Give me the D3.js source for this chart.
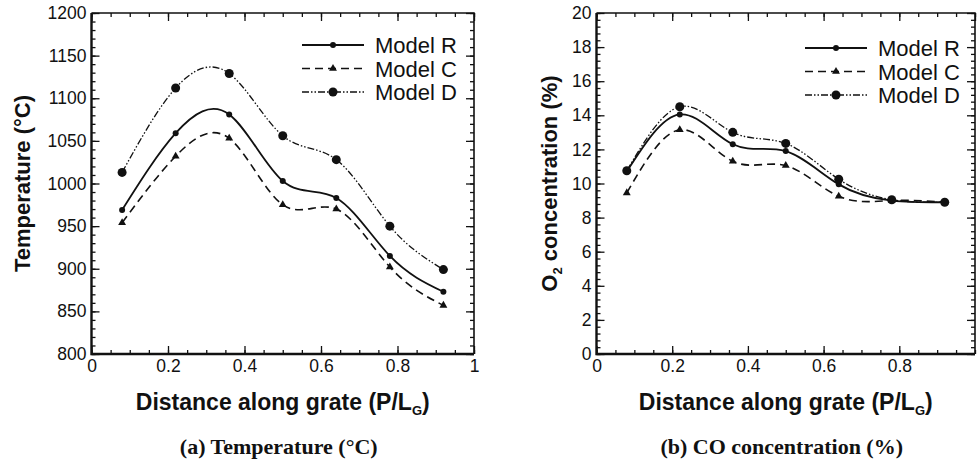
<!DOCTYPE html>
<html>
<head>
<meta charset="utf-8">
<script src="https://cdn.jsdelivr.net/npm/d3@7"></script>
<style>
  body { margin: 0; background: #fff; }
  svg { display: block; }
  .tick text { font-family: "Liberation Sans", Arial, sans-serif; font-size: 17.5px; fill: #111; }
</style>
</head>
<body>
<div id="chart"></div>
<script>
// distance along grate, same stations for both panels
const distance = [0.08, 0.22, 0.36, 0.50, 0.64, 0.78, 0.92];

// (a) temperature, deg C
const tempR = [969, 1059, 1081, 1003, 983, 915, 873];
const tempC = [954, 1032, 1053, 975, 970, 902, 857];
const tempD = [1013, 1112, 1129, 1056, 1028, 950, 899];

// (b) O2 concentration, %
const o2R = [10.7, 14.05, 12.3, 11.9, 9.95, 9.0, 8.9];
const o2C = [9.45, 13.15, 11.3, 11.05, 9.25, 9.0, 8.9];
const o2D = [10.75, 14.5, 13.0, 12.35, 10.25, 9.05, 8.9];

const xTicks = [0, 0.2, 0.4, 0.6, 0.8, 1];
const tempTicks = [800, 850, 900, 950, 1000, 1050, 1100, 1150, 1200];
const o2Ticks = [0, 2, 4, 6, 8, 10, 12, 14, 16, 18, 20];
const modelNames = ["Model R", "Model C", "Model D"];

const W = 977, H = 472;

const svg = d3.select("#chart").append("svg")
    .attr("width", W)
    .attr("height", H);

svg.append("rect").attr("width", W).attr("height", H).attr("fill", "#fff");

const styles = [
  {dash: null, width: 1.8, marker: "dot", r: 3},
  {dash: "8,5", width: 1.6, marker: "tri", r: 3.5},
  {dash: "7,2,1.5,2,1.5,2", width: 1.3, marker: "dot", r: 4.5}
];

function marker(g, kind, cx, cy, r) {
  if (kind === "tri") {
    g.append("path")
      .attr("d", d3.symbol(d3.symbolTriangle, r * r * 2.2)())
      .attr("transform", `translate(${cx},${cy})`)
      .attr("fill", "#111");
  } else {
    g.append("circle").attr("cx", cx).attr("cy", cy).attr("r", r).attr("fill", "#111");
  }
}

function drawPanel(cfg) {
  const g = svg.append("g");
  const x = d3.scaleLinear().domain([0, 1]).range([cfg.left, cfg.right]);
  const y = d3.scaleLinear().domain(cfg.yDomain).range([cfg.bottom, cfg.top]);

  const minorX = d3.range(0, 1.0001, 0.05);
  const minorY = d3.range(cfg.yDomain[0], cfg.yDomain[1] + 1e-6, cfg.yMinor);

  // minor ticks, all four sides, pointing in
  g.append("g").attr("transform", `translate(0,${cfg.bottom})`)
    .call(d3.axisBottom(x).tickValues(minorX).tickSizeInner(-4).tickSizeOuter(0).tickFormat(""));
  g.append("g").attr("transform", `translate(0,${cfg.top})`)
    .call(d3.axisTop(x).tickValues(minorX).tickSizeInner(-4).tickSizeOuter(0).tickFormat(""));
  g.append("g").attr("transform", `translate(${cfg.left},0)`)
    .call(d3.axisLeft(y).tickValues(minorY).tickSizeInner(-4).tickSizeOuter(0).tickFormat(""));
  g.append("g").attr("transform", `translate(${cfg.right},0)`)
    .call(d3.axisRight(y).tickValues(minorY).tickSizeInner(-4).tickSizeOuter(0).tickFormat(""));

  // major ticks with labels
  g.append("g").attr("transform", `translate(0,${cfg.bottom})`)
    .call(d3.axisBottom(x).tickValues(cfg.xLabels).tickSizeInner(-8).tickSizeOuter(0).tickPadding(6)
      .tickFormat(d => String(d)));
  g.append("g").attr("transform", `translate(0,${cfg.top})`)
    .call(d3.axisTop(x).tickValues(xTicks).tickSizeInner(-8).tickSizeOuter(0).tickFormat(""));
  g.append("g").attr("transform", `translate(${cfg.left},0)`)
    .call(d3.axisLeft(y).tickValues(cfg.yTicks).tickSizeInner(-8).tickSizeOuter(0).tickPadding(5)
      .tickFormat(d => String(d)));
  g.append("g").attr("transform", `translate(${cfg.right},0)`)
    .call(d3.axisRight(y).tickValues(cfg.yTicks).tickSizeInner(-8).tickSizeOuter(0).tickFormat(""));

  g.selectAll(".domain").remove();
  g.selectAll(".tick line").attr("stroke", "#111").attr("stroke-width", 1.3);

  // frame: heavy left/bottom, lighter top/right
  g.append("path")
    .attr("d", `M${cfg.left},${cfg.top}V${cfg.bottom}H${cfg.right}`)
    .attr("fill", "none").attr("stroke", "#111").attr("stroke-width", 2.4);
  g.append("path")
    .attr("d", `M${cfg.left},${cfg.top}H${cfg.right}V${cfg.bottom}`)
    .attr("fill", "none").attr("stroke", "#111").attr("stroke-width", 1.6);

  const line = d3.line()
    .x(d => x(d[0]))
    .y(d => y(d[1]))
    .curve(d3.curveNatural);

  cfg.series.forEach((vals, i) => {
    const st = styles[i];
    const pts = distance.map((d, j) => [d, vals[j]]);
    g.append("path")
      .attr("d", line(pts))
      .attr("fill", "none")
      .attr("stroke", "#111")
      .attr("stroke-width", st.width)
      .attr("stroke-dasharray", st.dash);
    pts.forEach(p => marker(g, st.marker, x(p[0]), y(p[1]), st.r));
  });

  // legend
  const leg = g.append("g");
  modelNames.forEach((name, i) => {
    const st = styles[i];
    const ly = cfg.legY + i * 23.5;
    leg.append("line")
      .attr("x1", cfg.legX).attr("x2", cfg.legX + 62)
      .attr("y1", ly).attr("y2", ly)
      .attr("stroke", "#111")
      .attr("stroke-width", st.width)
      .attr("stroke-dasharray", st.dash);
    marker(leg, st.marker, cfg.legX + 31, ly, st.r);
    leg.append("text")
      .attr("x", cfg.legX + 73)
      .attr("y", ly + 8)
      .attr("font-family", "Liberation Sans, Arial, sans-serif")
      .attr("font-size", 22)
      .attr("fill", "#111")
      .text(name);
  });

  // x title with subscript G
  const cx = (cfg.left + cfg.right) / 2;
  const xt = g.append("text")
    .attr("x", cx)
    .attr("y", cfg.bottom + 56)
    .attr("text-anchor", "middle")
    .attr("font-family", "Liberation Sans, Arial, sans-serif")
    .attr("font-weight", "bold")
    .attr("font-size", 23)
    .attr("fill", "#111");
  xt.append("tspan").text("Distance along grate (P/L");
  xt.append("tspan").attr("font-size", 13).attr("dy", 5).text("G");
  xt.append("tspan").attr("dy", -5).text(")");

  // y title, rotated
  const yt = g.append("text")
    .attr("transform", `translate(${cfg.yTitleX},${(cfg.top + cfg.bottom) / 2}) rotate(-90)`)
    .attr("text-anchor", "middle")
    .attr("font-family", "Liberation Sans, Arial, sans-serif")
    .attr("font-weight", "bold")
    .attr("font-size", 22)
    .attr("fill", "#111");
  cfg.yTitle(yt);

  // caption under the panel
  g.append("text")
    .attr("x", cx - 4)
    .attr("y", cfg.bottom + 100)
    .attr("text-anchor", "middle")
    .attr("font-family", "Liberation Serif, Times New Roman, serif")
    .attr("font-weight", "bold")
    .attr("font-size", 22)
    .attr("fill", "#111")
    .text(cfg.caption);
}

drawPanel({
  left: 91.5, right: 474, top: 13, bottom: 354,
  yDomain: [800, 1200], yTicks: tempTicks, yMinor: 10,
  xLabels: xTicks,
  series: [tempR, tempC, tempD],
  legX: 302, legY: 45,
  yTitleX: 30,
  yTitle: t => t.text("Temperature (°C)"),
  caption: "(a) Temperature (°C)"
});

drawPanel({
  left: 596.5, right: 975, top: 13, bottom: 354,
  yDomain: [0, 20], yTicks: o2Ticks, yMinor: 0.4,
  xLabels: xTicks.slice(0, 5),
  series: [o2R, o2C, o2D],
  legX: 805, legY: 48,
  yTitleX: 557,
  yTitle: t => {
    t.append("tspan").text("O");
    t.append("tspan").attr("font-size", 13).attr("dy", 5).text("2");
    t.append("tspan").attr("dy", -5).text(" concentration (%)");
  },
  caption: "(b) CO concentration (%)"
});
</script>
</body>
</html>
